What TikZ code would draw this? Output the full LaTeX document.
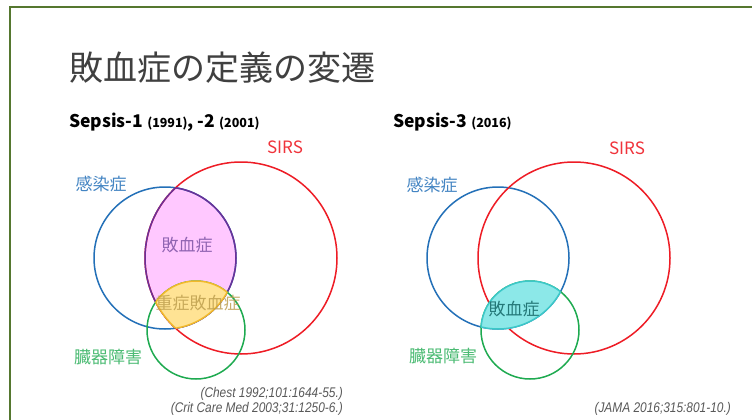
\documentclass[tikz,border=0pt]{standalone}
\usepackage{fontspec}
\setmainfont{Noto Sans CJK JP}
\newfontfamily\citefont[FakeStretch=0.85]{Liberation Sans}
\definecolor{framegreen}{HTML}{55772F}
\definecolor{titlegray}{HTML}{404040}
\definecolor{citegray}{HTML}{595959}
\definecolor{infblue}{HTML}{2370B8}
\definecolor{sirsred}{HTML}{EE1C25}
\definecolor{organgreen}{HTML}{1EAA50}
\definecolor{sepsispink}{HTML}{FFC8FF}
\definecolor{sepsispurple}{HTML}{6B3098}
\definecolor{severeyellow}{HTML}{FFE394}
\definecolor{severegold}{HTML}{F2B92A}
\definecolor{newcyan}{HTML}{8CE8E8}
\definecolor{newteal}{HTML}{3CC8C8}
\newcommand{\yr}[1]{{\fontsize{12.5}{14}\selectfont(#1)}}
\tikzset{
	lab/.style={font=\fontsize{17}{20}\selectfont,inner sep=0pt},
	hd/.style={font=\fontsize{17.5}{20}\selectfont\bfseries,anchor=west,inner sep=0pt},
	cite/.style={font=\citefont\itshape\fontsize{14}{16}\selectfont,text=citegray,anchor=east,inner sep=0pt},
	circ/.style={line width=1.5pt}
}
\begin{document}
\begin{tikzpicture}[x=1pt,y=-1pt]
		\useasboundingbox (0,0) rectangle (752,420);
		\fill[white] (0,0) rectangle (752,420);
		\draw[framegreen,line width=2pt] (10,420)--(10,7)--(752,7);
		\node[anchor=west,inner sep=0pt,font=\fontsize{34}{36}\selectfont,text=titlegray] (title) at (69,68) {敗血症の定義の変遷};
		\node[hd] (hdold) at (69,122) {Sepsis-1 \yr{1991}, -2 \yr{2001}};
		\node[hd] (hdnew) at (393,122) {Sepsis-3 \yr{2016}};
	% Sepsis-1, -2
		\coordinate (infold) at (165,258);
		\coordinate (sirsold) at (241,258);
		\coordinate (organold) at (196,330);
		\begin{scope}
			\clip (infold) circle (71pt);
			\fill[sepsispink] (sirsold) circle (96pt);
		\end{scope}
		\draw[circ,infblue] (infold) circle (71pt);
		\draw[circ,sirsred] (sirsold) circle (96pt);
		\begin{scope}
			\clip (infold) circle (71pt);
			\draw[circ,sepsispurple] (sirsold) circle (96pt);
		\end{scope}
		\begin{scope}
			\clip (sirsold) circle (96pt);
			\draw[circ,sepsispurple] (infold) circle (71pt);
		\end{scope}
		\draw[circ,organgreen] (organold) circle (49pt);
		\begin{scope}
			\clip (infold) circle (71pt);
			\clip (sirsold) circle (96pt);
			\fill[severeyellow] (organold) circle (49pt);
			\draw[circ,severegold] (organold) circle (49pt);
		\end{scope}
		\begin{scope}
			\clip (organold) circle (49pt);
			\clip (sirsold) circle (96pt);
			\draw[circ,severegold] (infold) circle (71pt);
		\end{scope}
		\begin{scope}
			\clip (organold) circle (49pt);
			\clip (infold) circle (71pt);
			\draw[circ,severegold] (sirsold) circle (96pt);
		\end{scope}
		\node[lab,text=sirsred!90] (sirsoldtxt) at (285,147) {SIRS};
		\node[lab,text=infblue!85] (infoldtxt) at (101,184) {感染症};
		\node[lab,text=sepsispurple!75] (sepoldtxt) at (187,245) {敗血症};
		\node[lab,text=severegold!70!black!80,opacity=0.8] (sevoldtxt) at (198,303) {重症敗血症};
		\node[lab,text=organgreen!80] (organoldtxt) at (108,357) {臓器障害};
	% Sepsis-3
		\coordinate (infnew) at (498,258);
		\coordinate (sirsnew) at (574,258);
		\coordinate (organnew) at (530,330);
		\draw[circ,infblue] (infnew) circle (71pt);
		\draw[circ,sirsred] (sirsnew) circle (96pt);
		\draw[circ,organgreen] (organnew) circle (49pt);
		\begin{scope}
			\clip (infnew) circle (71pt);
			\fill[newcyan] (organnew) circle (49pt);
			\draw[circ,newteal] (organnew) circle (49pt);
		\end{scope}
		\begin{scope}
			\clip (organnew) circle (49pt);
			\draw[circ,newteal] (infnew) circle (71pt);
		\end{scope}
		\node[lab,text=sirsred!90] (sirsnewtxt) at (627,148) {SIRS};
		\node[lab,text=infblue!85] (infnewtxt) at (432,185) {感染症};
		\node[lab,text=newteal!60!black] (sepnewtxt) at (514,309) {敗血症};
		\node[lab,text=organgreen!80] (organnewtxt) at (443,356) {臓器障害};
	% references
		\node[cite] (citechest) at (343,394) {(Chest 1992;101:1644-55.)};
		\node[cite] (citeccm) at (343,409) {(Crit Care Med 2003;31:1250-6.)};
		\node[cite] (citejama) at (731,409) {(JAMA 2016;315:801-10.)};
	\end{tikzpicture}
\end{document}
